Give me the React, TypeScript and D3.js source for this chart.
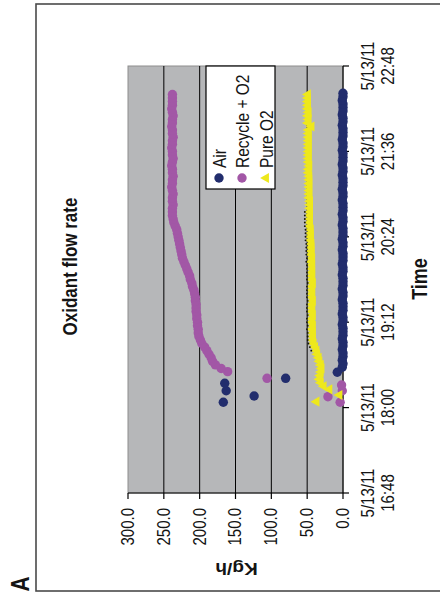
import React from "react";
import * as d3 from "d3";

// ---------- data ----------
const dateLabel = "5/13/11";
const timeTicks = ["16:48", "18:00", "19:12", "20:24", "21:36", "22:48"];
const valueTicks = [0, 50, 100, 150, 200, 250, 300];
const seriesNames = ["Air", "Recycle + O2", "Pure O2"];
const stepMinutes = 3;

const airEarlyTimes = ["18:04:30", "18:09:48", "18:14:12", "18:20:30", "18:24:42", "18:29:48"];
const airEarlyValues = [167, 124, 163, 165, 80, 8];
const airStart = "18:34:00";
const airValues = [
  1, 0, 1, 0, 0, 1, 0, 0, 1, 0, 0, 0, 1, 0, 0, 1, 0, 0, 0, 1,
  0, 0, 1, 0, 0, 0, 1, 0, 0, 1, 0, 0, 0, 1, 0, 0, 1, 0, 0, 0,
  1, 0, 0, 1, 0, 0, 0, 1, 0, 0, 1, 0, 0, 0, 1, 0, 0, 1, 0, 0,
  0, 1, 0, 0, 1, 0, 0, 0, 1, 0, 0, 1, 0, 0, 0, 1, 0, 0,
];

const recycleEarlyTimes = ["18:04:30", "18:09:12", "18:14:12", "18:19:00", "18:24:42", "18:30:18"];
const recycleEarlyValues = [4, 21, 1, 2, 106, 161];
const recycleStart = "18:33:00";
const recycleValues = [
  170, 178, 182, 184, 187, 190, 193, 197, 199, 201, 202, 202, 203, 203, 204, 204, 205, 205, 205, 206,
  206, 207, 208, 210, 211, 213, 214, 216, 218, 220, 222, 224, 225, 226, 227, 228, 229, 230, 231, 232,
  234, 236, 237, 238, 238, 238, 237, 238, 238, 237, 238, 239, 238, 238, 237, 238, 238, 239, 238, 237,
  238, 238, 239, 238, 238, 237, 238, 238, 239, 238, 238, 237, 238, 239, 238, 238, 238, 238,
];

const pureEarlyTimes = ["18:05:00", "18:10:36", "18:15:24"];
const pureEarlyValues = [37, 5, 19];
const pureStart = "18:18:00";
const pureValues = [
  27, 31, 33, 32, 31, 30, 31, 33, 34, 36, 37, 39, 41, 42, 42, 42, 43, 42, 43, 43,
  42, 43, 43, 43, 42, 43, 43, 43, 43, 42, 43, 43, 43, 43, 43, 44, 43, 44, 44, 44,
  44, 45, 45, 45, 45, 46, 46, 46, 46, 46, 46, 46, 46, 47, 47, 47, 47, 47, 47, 47,
  48, 48, 47, 48, 48, 48, 48, 48, 48, 48, 48, 48, 48, 44, 49, 48, 49, 48, 49, 49,
  49, 49, 49,
];
// time window in which the triangle tips show as dark dots
const tipDotFrom = "18:48:00";
const tipDotTo = "20:45:00";

// ---------- helpers ----------
const parse = d3.timeParse("%H:%M:%S");
type Pt = { t: Date; v: number };
function buildSeries(earlyT: string[], earlyV: number[], start: string, vals: number[]): Pt[] {
  const pts: Pt[] = earlyT.map((s, i) => ({ t: parse(s) as Date, v: earlyV[i] }));
  const s0 = parse(start) as Date;
  vals.forEach((v, i) => pts.push({ t: d3.timeMinute.offset(s0, i * stepMinutes), v }));
  return pts;
}

const COLORS = { air: "#222D6D", recycle: "#A257A6", pure: "#EEE81C" };
const FONT = "'Liberation Sans', Arial, Helvetica, sans-serif";
const TEXT = "#141414";
const SX = 1.2; // horizontal stretch of the original picture

export default function App() {
  const plot = { left: 128, right: 343, top: 66, bottom: 493 };
  const tScale = d3
    .scaleTime()
    .domain([parse("16:48:00") as Date, parse("22:48:00") as Date])
    .range([plot.bottom, plot.top]);
  const vScale = d3.scaleLinear().domain([0, 300]).range([plot.right, plot.left]);

  const air = buildSeries(airEarlyTimes, airEarlyValues, airStart, airValues);
  const recycle = buildSeries(recycleEarlyTimes, recycleEarlyValues, recycleStart, recycleValues);
  const pure = buildSeries(pureEarlyTimes, pureEarlyValues, pureStart, pureValues);

  const tri = d3.symbol(d3.symbolTriangle, 45)() as string;
  const r = 4.7;
  const tipFrom = parse(tipDotFrom) as Date;
  const tipTo = parse(tipDotTo) as Date;

  const rotText = (x: number, y: number) => `translate(${x},${y}) scale(${SX},1) rotate(-90)`;

  const legendCols = [219, 242, 266];
  const legendMarkY = 178;

  return (
    <svg
      width={440}
      height={601}
      style={{ position: "absolute", left: 0, top: 0, background: "#fff" }}
      fontFamily={FONT}
    >
      {/* outer frame */}
      <rect x={36} y={4} width={430} height={587} fill="#fff" stroke="#4a4a4a" strokeWidth={1.6} />

      {/* plot area */}
      <rect
        x={plot.left}
        y={plot.top}
        width={plot.right - plot.left}
        height={plot.bottom - plot.top}
        fill="#B6B7B9"
        stroke="#8d8d8d"
        strokeWidth={1}
      />
      {valueTicks
        .filter((v) => v > 0 && v < 300)
        .map((v) => (
          <line key={"g" + v} x1={vScale(v)} x2={vScale(v)} y1={plot.top} y2={plot.bottom} stroke="#000" strokeWidth={1} />
        ))}
      {/* axes */}
      <line x1={vScale(0)} x2={vScale(0)} y1={plot.top} y2={plot.bottom} stroke="#000" strokeWidth={1.2} />
      <line x1={plot.left} x2={plot.right} y1={plot.bottom} y2={plot.bottom} stroke="#000" strokeWidth={1.2} />
      {valueTicks.map((v) => (
        <g key={"vt" + v}>
          <line x1={vScale(v)} x2={vScale(v)} y1={plot.bottom} y2={plot.bottom + 6} stroke="#000" strokeWidth={1.2} />
          <text
            transform={rotText(vScale(v), 508)}
            textAnchor="end"
            dominantBaseline="central"
            fontSize={15}
            fill={TEXT}
          >
            {d3.format(".1f")(v)}
          </text>
        </g>
      ))}
      {timeTicks.map((s) => {
        const y = tScale(parse(s + ":00") as Date);
        return (
          <g key={"tt" + s}>
            <line x1={plot.right} x2={plot.right + 6} y1={y} y2={y} stroke="#000" strokeWidth={1.2} />
            <text transform={rotText(368.5, y)} textAnchor="middle" dominantBaseline="central" fontSize={15} fill={TEXT}>
              {dateLabel}
            </text>
            <text transform={rotText(388.5, y)} textAnchor="middle" dominantBaseline="central" fontSize={15} fill={TEXT}>
              {s}
            </text>
          </g>
        );
      })}

      {/* series */}
      {air.map((p, i) => (
        <circle key={"a" + i} cx={vScale(p.v)} cy={tScale(p.t)} r={r} fill={COLORS.air} />
      ))}
      {recycle.map((p, i) => (
        <circle key={"r" + i} cx={vScale(p.v)} cy={tScale(p.t)} r={r} fill={COLORS.recycle} />
      ))}
      {pure.map((p, i) => (
        <path
          key={"p" + i}
          d={tri}
          transform={`translate(${vScale(p.v)},${tScale(p.t)}) rotate(-90)`}
          fill={COLORS.pure}
        />
      ))}
      {pure
        .filter((p) => p.t >= tipFrom && p.t <= tipTo)
        .map((p, i) => (
          <circle key={"d" + i} cx={vScale(p.v) - 5.2} cy={tScale(p.t)} r={0.95} fill="#111" />
        ))}

      {/* legend */}
      <rect x={206} y={66} width={69} height={123} fill="#fff" stroke="#000" strokeWidth={1.2} />
      <circle cx={legendCols[0]} cy={legendMarkY} r={r} fill={COLORS.air} />
      <circle cx={legendCols[1]} cy={legendMarkY} r={r} fill={COLORS.recycle} />
      <path d={tri} transform={`translate(${legendCols[2]},${legendMarkY}) rotate(-90)`} fill={COLORS.pure} />
      {seriesNames.map((n, i) => (
        <text
          key={n}
          transform={rotText(legendCols[i] + 1, 168)}
          textAnchor="start"
          dominantBaseline="central"
          fontSize={15.5}
          fill={TEXT}
        >
          {n}
        </text>
      ))}

      {/* titles */}
      <text transform={rotText(70, 266.5)} textAnchor="middle" dominantBaseline="central" fontSize={17} fontWeight="bold" fill={TEXT}>
        Oxidant flow rate
      </text>
      <text transform={rotText(419, 279)} textAnchor="middle" dominantBaseline="central" fontSize={18} fontWeight="bold" fill={TEXT}>
        Time
      </text>
      <text
        transform={`translate(236.5,568) scale(${SX},1) rotate(180)`}
        textAnchor="middle"
        dominantBaseline="central"
        fontSize={16}
        fontWeight="bold"
        fill={TEXT}
      >
        Kg/h
      </text>
      <text transform={rotText(20, 584)} textAnchor="middle" dominantBaseline="central" fontSize={21} fontWeight="bold" fill={TEXT}>
        A
      </text>
    </svg>
  );
}
